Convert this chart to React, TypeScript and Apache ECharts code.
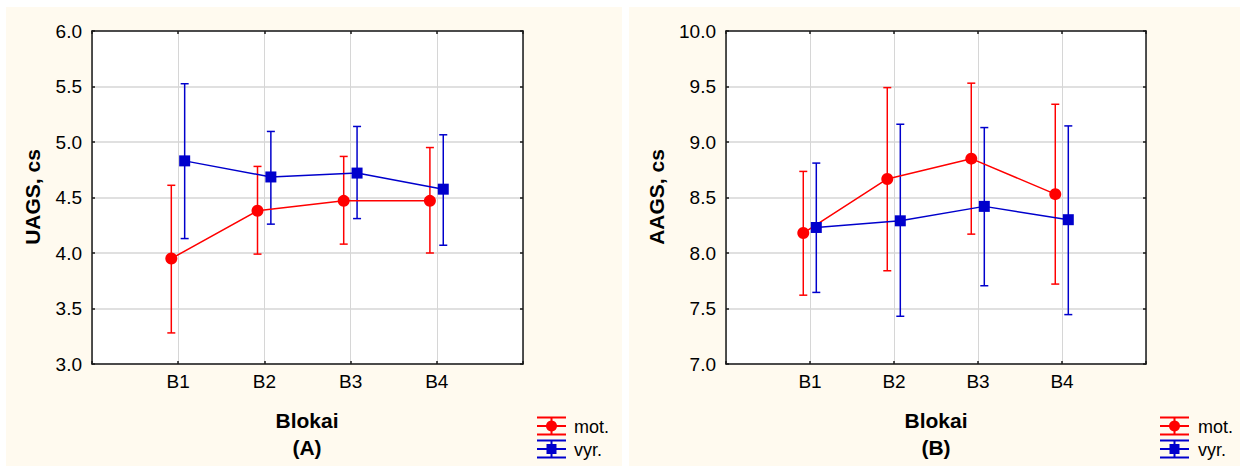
import React, { useEffect, useRef } from "react";
import * as echarts from "echarts";

const categories = ["B1", "B2", "B3", "B4"];
const seriesNames = ["mot.", "vyr."];

// Panel A: UAGS, cs
const uagsMotMean = [3.95, 4.38, 4.47, 4.47];
const uagsMotLow = [3.28, 3.99, 4.08, 4.0];
const uagsMotHigh = [4.61, 4.78, 4.87, 4.95];
const uagsVyrMean = [4.83, 4.685, 4.72, 4.575];
const uagsVyrLow = [4.13, 4.26, 4.31, 4.07];
const uagsVyrHigh = [5.525, 5.095, 5.14, 5.065];

// Panel B: AAGS, cs
const aagsMotMean = [8.18, 8.667, 8.85, 8.53];
const aagsMotLow = [7.62, 7.84, 8.17, 7.72];
const aagsMotHigh = [8.735, 9.49, 9.53, 9.34];
const aagsVyrMean = [8.23, 8.29, 8.42, 8.3];
const aagsVyrLow = [7.645, 7.43, 7.705, 7.445];
const aagsVyrHigh = [8.81, 9.16, 9.13, 9.145];

const RED = "#ff0000";
const BLUE = "#0000cc";
const FONT = 'Arial, "Liberation Sans", sans-serif';
const OFF_MOT = -0.08;
const OFF_VYR = 0.075;

function errorSeries(name: string, color: string, low: number[], high: number[], off: number, xi: number, yi: number) {
  return {
    type: "custom",
    name: name + " err",
    xAxisIndex: xi,
    yAxisIndex: yi,
    z: 2,
    encode: { x: 0, y: [1, 2] },
    data: low.map((l, i) => [i + 1 + off, l, high[i]]),
    renderItem: (params: any, api: any) => {
      const x = api.value(0);
      const lo = api.coord([x, api.value(1)]);
      const hi = api.coord([x, api.value(2)]);
      const hw = 4;
      const st = { stroke: color, lineWidth: 1.5 };
      return {
        type: "group",
        children: [
          { type: "line", shape: { x1: lo[0], y1: lo[1], x2: hi[0], y2: hi[1] }, style: st },
          { type: "line", shape: { x1: lo[0] - hw, y1: lo[1], x2: lo[0] + hw, y2: lo[1] }, style: st },
          { type: "line", shape: { x1: hi[0] - hw, y1: hi[1], x2: hi[0] + hw, y2: hi[1] }, style: st },
        ],
      };
    },
  };
}

function lineSeries(name: string, color: string, mean: number[], off: number, xi: number, yi: number, symbol: string, size: number) {
  return {
    type: "line",
    name,
    xAxisIndex: xi,
    yAxisIndex: yi,
    z: 3,
    symbol,
    symbolSize: size,
    itemStyle: { color },
    lineStyle: { color, width: 1.5 },
    data: mean.map((m, i) => [i + 1 + off, m]),
  };
}

const axisLineStyle = { color: "#1a1a1a", width: 1.5 };

function xAxes(gridIndex: number) {
  const base = {
    type: "value",
    gridIndex,
    min: 0,
    max: 5,
    interval: 1,
    axisLine: { show: true, onZero: false, lineStyle: axisLineStyle },
    axisTick: { show: true, inside: true, length: 3, lineStyle: { color: "#1a1a1a", width: 1.5 } },
  };
  return [
    {
      ...base,
      position: "bottom",
      splitLine: { show: true, lineStyle: { color: "#d6d6d6", width: 1 } },
      axisLabel: {
        margin: 8,
        color: "#000",
        fontSize: 19,
        fontFamily: FONT,
        formatter: (v: number) => (v >= 1 && v <= 4 ? categories[v - 1] : ""),
      },
    },
    { ...base, position: "top", splitLine: { show: false }, axisLabel: { show: false } },
  ];
}

function yAxes(gridIndex: number, min: number, max: number) {
  const base = {
    type: "value",
    gridIndex,
    min,
    max,
    interval: 0.5,
    axisLine: { show: true, onZero: false, lineStyle: axisLineStyle },
    axisTick: { show: true, inside: true, length: 3, lineStyle: { color: "#1a1a1a", width: 1.5 } },
  };
  return [
    {
      ...base,
      position: "left",
      splitLine: { show: true, lineStyle: { color: "#d6d6d6", width: 1.5 } },
      axisLabel: {
        margin: 10,
        color: "#000",
        fontSize: 19,
        fontFamily: FONT,
        formatter: (v: number) => v.toFixed(1),
      },
    },
    { ...base, position: "right", splitLine: { show: false }, axisLabel: { show: false } },
  ];
}

function legendGraphic(x0: number, textX: number) {
  const items: any[] = [];
  const w = 29;
  const cx = x0 + w / 2;
  const rows = [
    { y: 426, color: RED, marker: "circle", label: seriesNames[0] },
    { y: 449, color: BLUE, marker: "rect", label: seriesNames[1] },
  ];
  rows.forEach((r) => {
    const st = { stroke: r.color, lineWidth: 2 };
    items.push({ type: "line", shape: { x1: x0, y1: r.y - 8.5, x2: x0 + w, y2: r.y - 8.5 }, style: st });
    items.push({ type: "line", shape: { x1: x0, y1: r.y, x2: x0 + w, y2: r.y }, style: st });
    items.push({ type: "line", shape: { x1: x0, y1: r.y + 8.5, x2: x0 + w, y2: r.y + 8.5 }, style: st });
    items.push({ type: "line", shape: { x1: cx, y1: r.y - 8.5, x2: cx, y2: r.y + 8.5 }, style: st });
    if (r.marker === "circle") {
      items.push({ type: "circle", shape: { cx, cy: r.y, r: 5.5 }, style: { fill: r.color } });
    } else {
      items.push({ type: "rect", shape: { x: cx - 5, y: r.y - 5, width: 10, height: 10 }, style: { fill: r.color } });
    }
    items.push({
      type: "text",
      x: textX,
      y: r.y + 1,
      style: { text: r.label, fill: "#000", font: `18px ${FONT}`, verticalAlign: "middle" },
    });
  });
  return items;
}

function titleTexts(cx: number, letter: string, yTitleX: number, yTitle: string) {
  const font = `bold 21px ${FONT}`;
  return [
    { type: "text", x: cx, y: 420, style: { text: "Blokai", fill: "#000", font, align: "center", verticalAlign: "middle" } },
    { type: "text", x: cx, y: 447, style: { text: `(${letter})`, fill: "#000", font, align: "center", verticalAlign: "middle" } },
    {
      type: "text",
      x: yTitleX,
      y: 197,
      rotation: Math.PI / 2,
      style: { text: yTitle, fill: "#000", font, align: "center", verticalAlign: "middle" },
    },
  ];
}

export default function App() {
  const ref = useRef<HTMLDivElement>(null);
  useEffect(() => {
    document.body.style.margin = "0";
    const chart = echarts.init(ref.current!, undefined, { renderer: "svg" });
    const option: any = {
      animation: false,
      backgroundColor: "#ffffff",
      grid: [
        { left: 92, top: 31, width: 431, height: 333, show: true, backgroundColor: "#ffffff", borderWidth: 0 },
        { left: 726, top: 31, width: 420, height: 333, show: true, backgroundColor: "#ffffff", borderWidth: 0 },
      ],
      xAxis: [...xAxes(0), ...xAxes(1)],
      yAxis: [...yAxes(0, 3, 6), ...yAxes(1, 7, 10)],
      graphic: [
        { type: "rect", z: -10, silent: true, shape: { x: 6, y: 7, width: 616, height: 459 }, style: { fill: "#fffaef" } },
        { type: "rect", z: -10, silent: true, shape: { x: 629, y: 7, width: 611, height: 459 }, style: { fill: "#fffaef" } },
        ...titleTexts(307, "A", 32, "UAGS, cs"),
        ...titleTexts(936, "B", 656, "AAGS, cs"),
        ...legendGraphic(537, 574),
        ...legendGraphic(1160, 1198),
      ],
      series: [
        errorSeries("mot.", RED, uagsMotLow, uagsMotHigh, OFF_MOT, 0, 0),
        errorSeries("vyr.", BLUE, uagsVyrLow, uagsVyrHigh, OFF_VYR, 0, 0),
        lineSeries("mot.", RED, uagsMotMean, OFF_MOT, 0, 0, "circle", 12),
        lineSeries("vyr.", BLUE, uagsVyrMean, OFF_VYR, 0, 0, "rect", 11),
        errorSeries("mot.", RED, aagsMotLow, aagsMotHigh, OFF_MOT, 2, 2),
        errorSeries("vyr.", BLUE, aagsVyrLow, aagsVyrHigh, OFF_VYR, 2, 2),
        lineSeries("mot.", RED, aagsMotMean, OFF_MOT, 2, 2, "circle", 12),
        lineSeries("vyr.", BLUE, aagsVyrMean, OFF_VYR, 2, 2, "rect", 11),
      ],
    };
    chart.setOption(option);
    return () => chart.dispose();
  }, []);
  return <div ref={ref} style={{ position: "fixed", left: 0, top: 0, width: 1240, height: 466 }} />;
}
